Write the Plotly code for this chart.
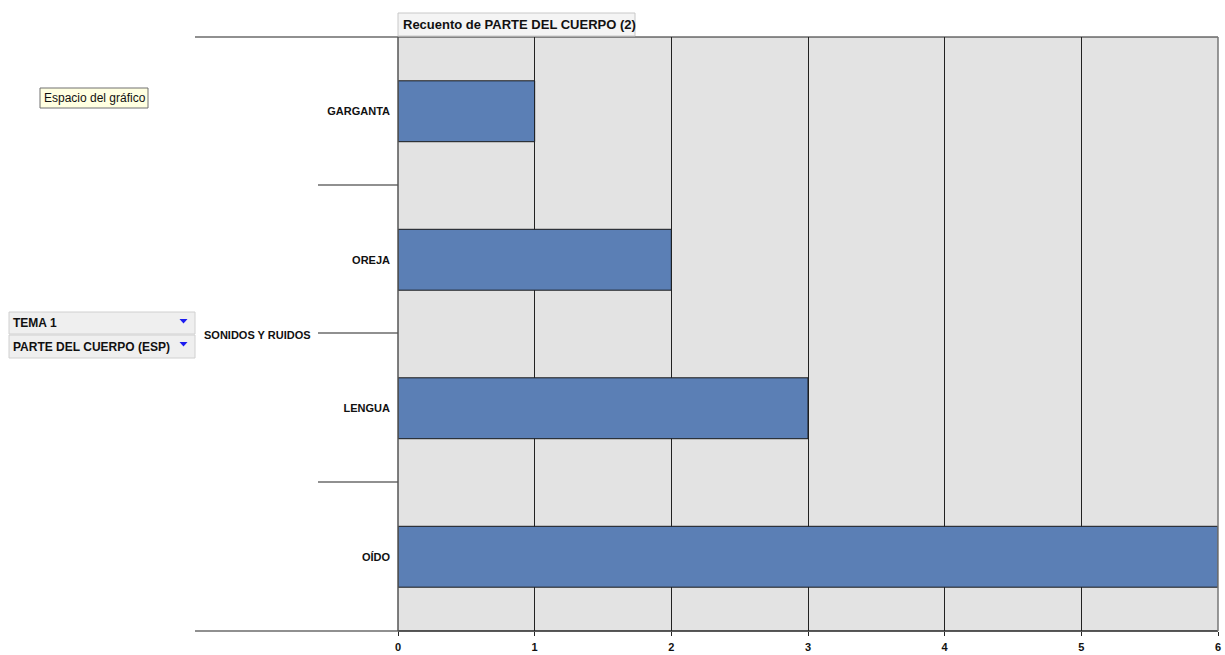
import plotly.graph_objects as go

# Pivot-chart counts per body part within the theme
tema = "SONIDOS Y RUIDOS"
partes = ["GARGANTA", "OREJA", "LENGUA", "OÍDO"]
recuento = [1, 2, 3, 6]
x_ticks = [0, 1, 2, 3, 4, 5, 6]

W, H = 1225, 655
L, R, T, B = 398, 1218, 37, 631
FONT = "Liberation Sans Narrow, Liberation Sans, Arial"
BAR = "#5b7fb5"


def px(x):
    return (x - L) / (R - L)


def py(y):
    return (B - y) / (B - T)


fig = go.Figure()
fig.add_trace(go.Bar(
    y=partes, x=recuento, orientation="h",
    marker=dict(color=BAR, line=dict(color="#1a1a1a", width=1)),
    hoverinfo="skip",
))

shapes = []
# category divider / connector lines left of the plot
for y0, x0 in [(T, 195), (B, 195), (185, 318), (333, 318), (482, 318)]:
    shapes.append(dict(type="line", xref="paper", yref="paper",
                       x0=px(x0), x1=0, y0=py(y0), y1=py(y0),
                       line=dict(color="#222", width=1.2)))
# plot border
shapes.append(dict(type="line", xref="paper", yref="paper", x0=0, x1=1, y0=1, y1=1,
                   line=dict(color="#222", width=1.2)))
shapes.append(dict(type="line", xref="paper", yref="paper", x0=0, x1=1, y0=0, y1=0,
                   line=dict(color="#222", width=1.5)))
shapes.append(dict(type="line", xref="paper", yref="paper", x0=0, x1=0, y0=0, y1=1,
                   line=dict(color="#555", width=1.5)))
shapes.append(dict(type="line", xref="paper", yref="paper", x0=1, x1=1, y0=0, y1=1,
                   line=dict(color="#777", width=1.5)))

# value-field button above the plot
shapes.append(dict(type="rect", xref="paper", yref="paper",
                   x0=px(398), x1=px(635), y0=py(36), y1=py(13),
                   fillcolor="#f4f4f4", line=dict(color="#c8c8c8", width=1)))
# row-field buttons with their dropdown arrows
for y0, y1 in [(312, 334), (335, 358)]:
    shapes.append(dict(type="rect", xref="paper", yref="paper",
                       x0=px(9), x1=px(195), y0=py(y1), y1=py(y0),
                       fillcolor="#efefef", line=dict(color="#d0d0d0", width=1)))
for ty in [319, 342]:
    shapes.append(dict(
        type="path", xref="paper", yref="paper",
        path=f"M {px(179.5)},{py(ty)} L {px(187.5)},{py(ty)} L {px(183.5)},{py(ty + 4.5)} Z",
        fillcolor="#1c1cf0", line=dict(width=0)))
# tooltip box
shapes.append(dict(type="rect", xref="paper", yref="paper",
                   x0=px(40), x1=px(148), y0=py(108), y1=py(88),
                   fillcolor="#ffffe1", line=dict(color="#707070", width=1)))

annotations = [
    dict(text="<b>Recuento de PARTE DEL CUERPO (2)</b>", xref="paper", yref="paper",
         x=px(401), y=py(24.5), xanchor="left", yanchor="middle", showarrow=False,
         font=dict(family=FONT, size=13, color="#111")),
    dict(text="Espacio del gráfico", xref="paper", yref="paper",
         x=px(42), y=py(98), xanchor="left", yanchor="middle", showarrow=False,
         font=dict(family=FONT, size=12, color="#111")),
    dict(text="<b>TEMA 1</b>", xref="paper", yref="paper",
         x=px(11), y=py(323), xanchor="left", yanchor="middle", showarrow=False,
         font=dict(family=FONT, size=12, color="#111")),
    dict(text="<b>PARTE DEL CUERPO (ESP)</b>", xref="paper", yref="paper",
         x=px(11), y=py(347), xanchor="left", yanchor="middle", showarrow=False,
         font=dict(family=FONT, size=12, color="#111")),
    dict(text="<b>" + tema + "</b>", xref="paper", yref="paper",
         x=px(313), y=py(335), xanchor="right", yanchor="middle", showarrow=False,
         font=dict(family=FONT, size=11, color="#111")),
]

fig.update_layout(
    width=W, height=H,
    margin=dict(l=L, r=W - R, t=T, b=H - B, pad=0, autoexpand=False),
    paper_bgcolor="white", plot_bgcolor="#e3e3e3",
    bargap=0.59, showlegend=False,
    shapes=shapes, annotations=annotations,
    font=dict(family=FONT, color="#111"),
)
fig.update_xaxes(
    range=[0, 6], tickvals=x_ticks, ticktext=[f"<b>{v}</b>" for v in x_ticks],
    showgrid=True, gridcolor="#222", gridwidth=1, zeroline=False,
    ticks="outside", ticklen=4, tickcolor="#222", showline=False,
    ticklabelstandoff=2, automargin=False, ticklabeloverflow="allow",
    tickfont=dict(family=FONT, size=11, color="#111"), fixedrange=True,
)
fig.update_yaxes(
    categoryorder="array", categoryarray=partes, autorange="reversed",
    ticktext=[f"<b>{p}</b>" for p in partes], tickvals=partes,
    showgrid=False, zeroline=False, ticks="", ticklabelstandoff=7,
    automargin=False,
    tickfont=dict(family=FONT, size=11, color="#111"), fixedrange=True,
)

fig.write_html("out.html", config={"displayModeBar": False})
